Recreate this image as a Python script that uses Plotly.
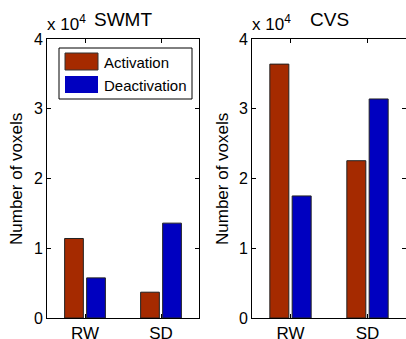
import plotly.graph_objects as go

W, H = 406, 339

categories = ["RW", "SD"]
series_names = ["Activation", "Deactivation"]
swmt_activation = [11400, 3700]
swmt_deactivation = [5750, 13600]
cvs_activation = [36400, 22550]
cvs_deactivation = [17500, 31400]
y_tick_values = [0, 10000, 20000, 30000, 40000]
y_tick_labels = ["0", "1", "2", "3", "4"]
panel_titles = ["SWMT", "CVS"]

ACT = "#A52A00"
DEACT = "#0000C0"
FONT = "Liberation Sans, Arial, sans-serif"

def px_x(p):
    return p / W

def px_y(p):
    return 1 - p / H

fig = go.Figure()
for i, (act, deact) in enumerate([(swmt_activation, swmt_deactivation), (cvs_activation, cvs_deactivation)]):
    xa = "x" if i == 0 else "x2"
    ya = "y" if i == 0 else "y2"
    fig.add_trace(go.Bar(x=categories, y=act, name=series_names[0], marker=dict(color=ACT, line=dict(color="#222", width=1)),
                         xaxis=xa, yaxis=ya, offsetgroup="a", showlegend=False))
    fig.add_trace(go.Bar(x=categories, y=deact, name=series_names[1], marker=dict(color=DEACT, line=dict(color="#222", width=1)),
                         xaxis=xa, yaxis=ya, offsetgroup="d", showlegend=False))

ydom = [px_y(318), px_y(39)]
axis_common = dict(showline=True, linecolor="black", linewidth=1, mirror="ticks", ticks="inside", ticklen=4,
                   tickcolor="black", showgrid=False, zeroline=False)
xfont = dict(family=FONT, size=17, color="black")
yfont = dict(family=FONT, size=16, color="black")

fig.update_layout(
    width=W, height=H, margin=dict(l=0, r=0, t=0, b=0, autoexpand=False),
    paper_bgcolor="white", plot_bgcolor="white",
    barmode="group", bargap=0.42, bargroupgap=0.15,
    font=dict(family=FONT, color="black"),
    xaxis=dict(domain=[px_x(47), px_x(199)], range=[-0.5, 1.5], anchor="y", tickfont=xfont, **axis_common),
    yaxis=dict(domain=ydom, range=[0, 40000], tickvals=y_tick_values, ticktext=y_tick_labels, anchor="x", tickfont=yfont, **axis_common),
    xaxis2=dict(domain=[px_x(252), 1.0], range=[-0.5, 1.5], anchor="y2", tickfont=xfont, **axis_common),
    yaxis2=dict(domain=ydom, range=[0, 40000], tickvals=y_tick_values, ticktext=y_tick_labels, anchor="x2", tickfont=yfont, **axis_common),
)

annotations = []
shapes = []
for x0, x1, title, ylab_x in [(47, 199, panel_titles[0], 16), (252, 406, panel_titles[1], 222)]:
    annotations.append(dict(text=title, x=px_x((x0 + x1) / 2), y=px_y(20), xref="paper", yref="paper",
                            xanchor="center", yanchor="middle", showarrow=False, font=dict(size=19, family=FONT)))
    annotations.append(dict(text="x 10<sup>4</sup>", x=px_x(x0 - 2), y=px_y(36), xref="paper", yref="paper",
                            xanchor="left", yanchor="bottom", showarrow=False, font=dict(size=17, family=FONT)))
    annotations.append(dict(text="Number of voxels", x=px_x(ylab_x), y=px_y(179), xref="paper", yref="paper",
                            xanchor="center", yanchor="middle", textangle=-90, showarrow=False, font=dict(size=17, family=FONT)))

# legend box
shapes.append(dict(type="rect", xref="paper", yref="paper", x0=px_x(59), x1=px_x(192), y0=px_y(99), y1=px_y(48),
                   line=dict(color="black", width=1), fillcolor="white"))
shapes.append(dict(type="rect", xref="paper", yref="paper", x0=px_x(65), x1=px_x(98), y0=px_y(70), y1=px_y(53),
                   line=dict(color="#333", width=1), fillcolor=ACT))
shapes.append(dict(type="rect", xref="paper", yref="paper", x0=px_x(65), x1=px_x(98), y0=px_y(93), y1=px_y(76),
                   line=dict(width=0), fillcolor=DEACT))
for name, yc in zip(series_names, [62, 85]):
    annotations.append(dict(text=name, x=px_x(102), y=px_y(yc), xref="paper", yref="paper", xanchor="left",
                            yanchor="middle", showarrow=False, font=dict(size=15, family=FONT)))

fig.update_layout(annotations=annotations, shapes=shapes)
fig.write_html("out.html", config={"displayModeBar": False, "responsive": False})

with open("out.html", "r", encoding="utf-8") as f:
    html = f.read()
html = html.replace("<head>", "<head><style>html,body{margin:0;padding:0;overflow:hidden;}</style>", 1)
with open("out.html", "w", encoding="utf-8") as f:
    f.write(html)
